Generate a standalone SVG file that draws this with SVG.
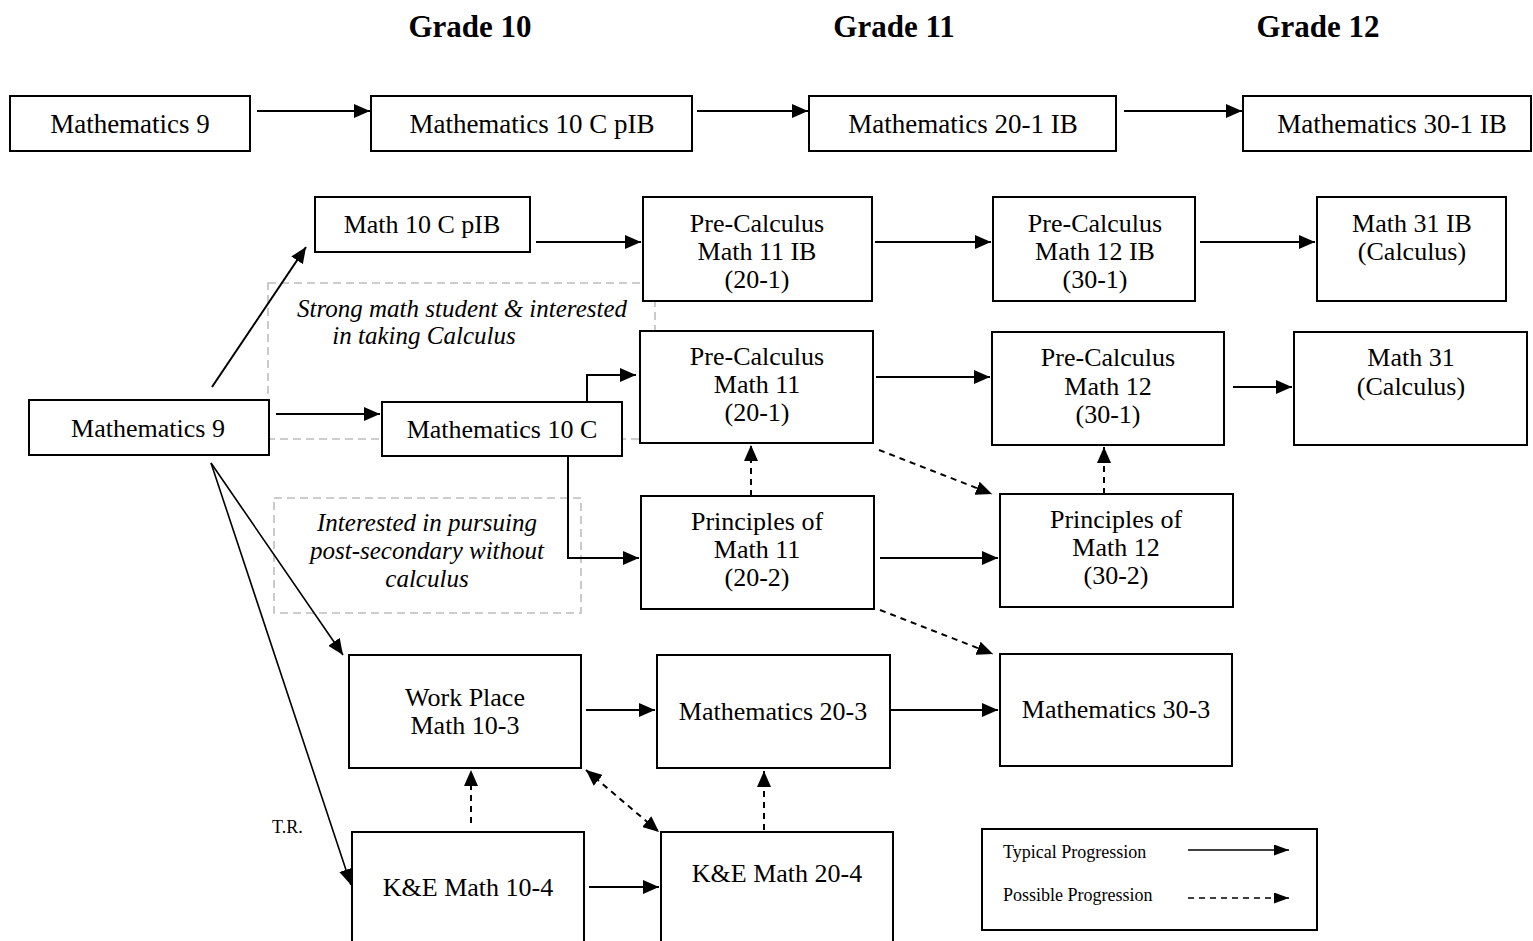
<svg xmlns="http://www.w3.org/2000/svg" width="1533" height="941" viewBox="0 0 1533 941">
  <defs>
    <marker id="ah" viewBox="0 0 16 14" refX="16" refY="7" markerWidth="16" markerHeight="14" markerUnits="userSpaceOnUse" orient="auto-start-reverse">
      <path d="M0,0 L16,7 L0,14 Z" fill="#000"/>
    </marker>
    <marker id="ahs" viewBox="0 0 15 11" refX="15" refY="5.5" markerWidth="15" markerHeight="11" markerUnits="userSpaceOnUse" orient="auto">
      <path d="M0,0 L15,5.5 L0,11 Z" fill="#000"/>
    </marker>
    <style>
      .box { fill: #fff; stroke: #000; stroke-width: 2; }
      .hint { fill: none; stroke: #bdbdbd; stroke-width: 1.6; stroke-dasharray: 8 5; }
      .t { font-family: "Liberation Serif", "Times New Roman", serif; font-size: 26px; fill: #000; text-anchor: middle; }
      .top { font-size: 27px; }
      .hd { font-family: "Liberation Serif", "Times New Roman", serif; font-size: 31px; font-weight: bold; text-anchor: middle; fill: #000; }
      .it { font-family: "Liberation Serif", "Times New Roman", serif; font-size: 25px; font-style: italic; text-anchor: middle; fill: #000; }
      .sm { font-family: "Liberation Serif", "Times New Roman", serif; font-size: 18px; fill: #000; }
      .c { fill: none; stroke: #000; stroke-width: 2; marker-end: url(#ah); }
      .thin { stroke-width: 1.6; }
      .d { stroke-dasharray: 6 5; }
    </style>
  </defs>
  <rect width="1533" height="941" fill="#fff"/>

  <!-- column headings -->
  <g id="headings">
    <text class="hd" x="470" y="37">Grade 10</text>
    <text class="hd" x="894" y="37">Grade 11</text>
    <text class="hd" x="1318" y="37">Grade 12</text>
  </g>

  <!-- guidance notes (grey dashed frames) -->
  <g id="note-calculus">
    <rect class="hint" x="268" y="283" width="387" height="156"/>
    <text class="it" x="462" y="317">Strong math student &amp; interested</text>
    <text class="it" x="424" y="344">in taking Calculus</text>
  </g>
  <g id="note-postsecondary">
    <rect class="hint" x="274" y="498" width="307" height="115"/>
    <text class="it" x="427" y="531">Interested in pursuing</text>
    <text class="it" x="427" y="559">post-secondary without</text>
    <text class="it" x="427" y="587">calculus</text>
  </g>

  <!-- connectors -->
  <g id="connectors">
    <path class="c" d="M257,111 H370"/>
    <path class="c" d="M697,111 H808"/>
    <path class="c" d="M1124,111 H1242"/>

    <path class="c" d="M212,387 L306,247"/>
    <path class="c" d="M536,242 H641"/>
    <path class="c" d="M875,242 H991"/>
    <path class="c" d="M1200,242 H1315"/>
    <path class="c" d="M276,414 H380"/>
    <path class="c" d="M587,402 V375 H636"/>
    <path class="c" d="M568,456 V558 H639"/>
    <path class="c" d="M876,377 H990"/>
    <path class="c" d="M1233,387 H1292"/>
    <path class="c d" d="M751,496 V445"/>
    <path class="c d" d="M879,450 L992,494"/>
    <path class="c" d="M880,558 H998"/>
    <path class="c d" d="M1104,494 V447"/>
    <path class="c d" d="M880,610 L993,654"/>

    <path class="c thin" d="M211,463 L343,655"/>
    <path class="c thin" d="M211,463 L351,885"/>
    <path class="c" d="M586,710 H655"/>
    <path class="c" d="M890,710 H998"/>
    <path class="c d" d="M471,823 V770"/>
    <path class="c d" d="M586,770 L659,832" marker-start="url(#ah)"/>
    <path class="c d" d="M764,830 V771"/>
    <path class="c" d="M589,887 H659"/>
  </g>

  <!-- top row: IB route -->
  <g id="top-math9">
    <rect class="box" x="10" y="96" width="240" height="55"/>
    <text class="t top" x="130" y="133">Mathematics 9</text>
  </g>
  <g id="top-math10cpib">
    <rect class="box" x="371" y="96" width="321" height="55"/>
    <text class="t top" x="532" y="133">Mathematics 10 C pIB</text>
  </g>
  <g id="top-math20-1ib">
    <rect class="box" x="809" y="96" width="307" height="55"/>
    <text class="t top" x="963" y="133">Mathematics 20-1 IB</text>
  </g>
  <g id="top-math30-1ib">
    <rect class="box" x="1243" y="96" width="288" height="55"/>
    <text class="t top" x="1392" y="133">Mathematics 30-1 IB</text>
  </g>

  <!-- pathway chart -->
  <g id="math10cpib">
    <rect class="box" x="315" y="197" width="215" height="55"/>
    <text class="t" x="422" y="233">Math 10 C pIB</text>
  </g>
  <g id="precalc11ib">
    <rect class="box" x="643" y="197" width="229" height="104"/>
    <text class="t" x="757" y="232">Pre-Calculus</text>
    <text class="t" x="757" y="260">Math 11 IB</text>
    <text class="t" x="757" y="288">(20-1)</text>
  </g>
  <g id="precalc12ib">
    <rect class="box" x="993" y="197" width="202" height="104"/>
    <text class="t" x="1095" y="232">Pre-Calculus</text>
    <text class="t" x="1095" y="260">Math 12 IB</text>
    <text class="t" x="1095" y="288">(30-1)</text>
  </g>
  <g id="math31ib">
    <rect class="box" x="1317" y="197" width="189" height="104"/>
    <text class="t" x="1412" y="232">Math 31 IB</text>
    <text class="t" x="1412" y="260">(Calculus)</text>
  </g>

  <g id="math9">
    <rect class="box" x="29" y="400" width="240" height="55"/>
    <text class="t" x="148" y="437">Mathematics 9</text>
  </g>
  <g id="math10c">
    <rect class="box" x="382" y="402" width="240" height="54"/>
    <text class="t" x="502" y="438">Mathematics 10 C</text>
  </g>
  <g id="precalc11">
    <rect class="box" x="640" y="331" width="233" height="112"/>
    <text class="t" x="757" y="365">Pre-Calculus</text>
    <text class="t" x="757" y="393">Math 11</text>
    <text class="t" x="757" y="421">(20-1)</text>
  </g>
  <g id="precalc12">
    <rect class="box" x="992" y="332" width="232" height="113"/>
    <text class="t" x="1108" y="366">Pre-Calculus</text>
    <text class="t" x="1108" y="395">Math 12</text>
    <text class="t" x="1108" y="423">(30-1)</text>
  </g>
  <g id="math31">
    <rect class="box" x="1294" y="332" width="233" height="113"/>
    <text class="t" x="1411" y="366">Math 31</text>
    <text class="t" x="1411" y="395">(Calculus)</text>
  </g>
  <g id="principles11">
    <rect class="box" x="641" y="496" width="233" height="113"/>
    <text class="t" x="757" y="530">Principles of</text>
    <text class="t" x="757" y="558">Math 11</text>
    <text class="t" x="757" y="586">(20-2)</text>
  </g>
  <g id="principles12">
    <rect class="box" x="1000" y="494" width="233" height="113"/>
    <text class="t" x="1116" y="528">Principles of</text>
    <text class="t" x="1116" y="556">Math 12</text>
    <text class="t" x="1116" y="584">(30-2)</text>
  </g>
  <g id="workplace10-3">
    <rect class="box" x="349" y="655" width="232" height="113"/>
    <text class="t" x="465" y="706">Work Place</text>
    <text class="t" x="465" y="734">Math 10-3</text>
  </g>
  <g id="math20-3">
    <rect class="box" x="657" y="655" width="233" height="113"/>
    <text class="t" x="773" y="720">Mathematics 20-3</text>
  </g>
  <g id="math30-3">
    <rect class="box" x="1000" y="654" width="232" height="112"/>
    <text class="t" x="1116" y="718">Mathematics 30-3</text>
  </g>
  <g id="ke10-4">
    <rect class="box" x="352" y="832" width="232" height="120"/>
    <text class="t" x="468" y="896">K&amp;E Math 10-4</text>
  </g>
  <g id="ke20-4">
    <rect class="box" x="661" y="832" width="232" height="120"/>
    <text class="t" x="777" y="882">K&amp;E Math 20-4</text>
  </g>

  <g id="tr-label">
    <text class="sm" x="272" y="833">T.R.</text>
  </g>

  <!-- key -->
  <g id="legend">
    <rect class="box" x="982" y="829" width="335" height="101"/>
    <text class="sm" x="1003" y="858">Typical Progression</text>
    <text class="sm" x="1003" y="901">Possible Progression</text>
    <path d="M1188,850 H1289" fill="none" stroke="#000" stroke-width="1.6" marker-end="url(#ahs)"/>
    <path d="M1188,898 H1289" fill="none" stroke="#000" stroke-width="1.6" stroke-dasharray="6 5" marker-end="url(#ahs)"/>
  </g>
</svg>
